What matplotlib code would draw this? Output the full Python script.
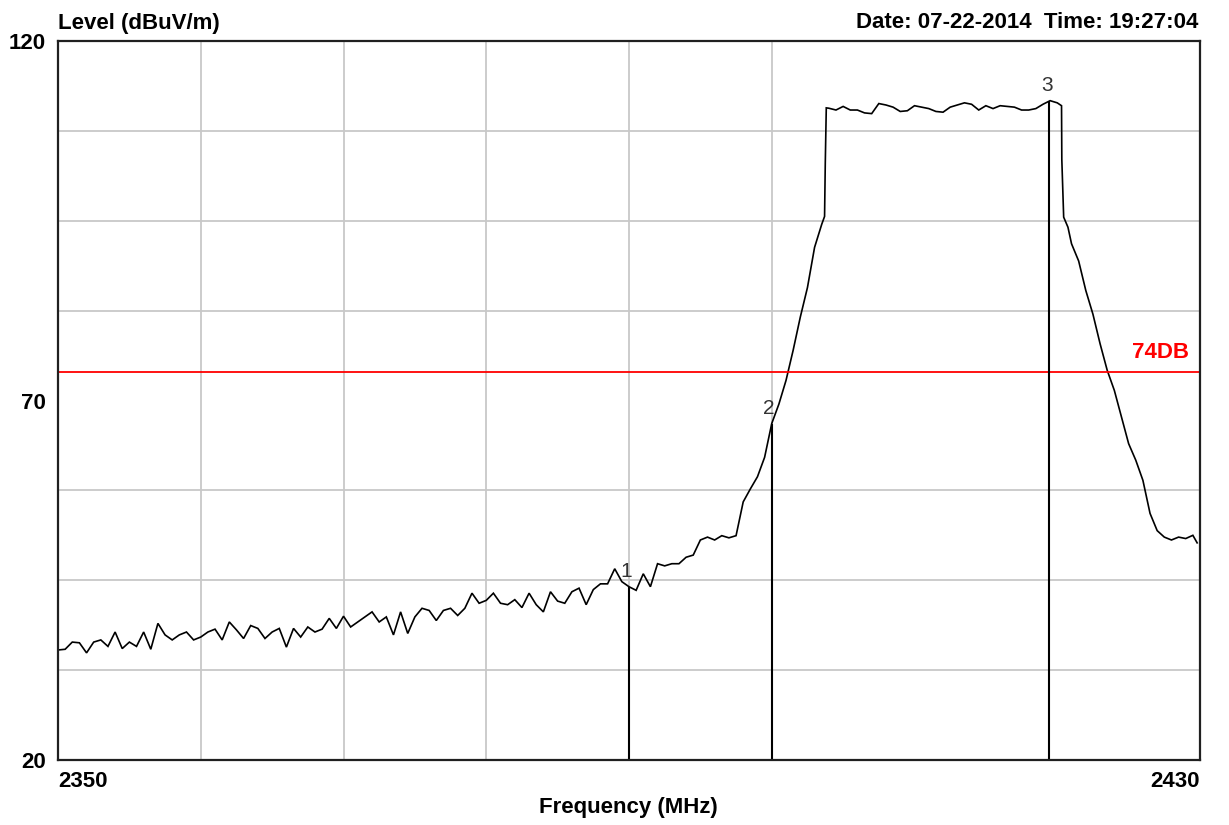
import matplotlib
matplotlib.use("Agg")
import matplotlib.pyplot as plt

# trace (MHz, dBuV/m)
freq = [
    2350.0, 2350.5, 2351.0, 2351.5, 2352.0, 2352.5, 2353.0, 2353.5, 2354.0, 2354.5,
    2355.0, 2355.5, 2356.0, 2356.5, 2357.0, 2357.5, 2358.0, 2358.5, 2359.0, 2359.5,
    2360.0, 2360.5, 2361.0, 2361.5, 2362.0, 2362.5, 2363.0, 2363.5, 2364.0, 2364.5,
    2365.0, 2365.5, 2366.0, 2366.5, 2367.0, 2367.5, 2368.0, 2368.5, 2369.0, 2369.5,
    2370.0, 2370.5, 2371.0, 2371.5, 2372.0, 2372.5, 2373.0, 2373.5, 2374.0, 2374.5,
    2375.0, 2375.5, 2376.0, 2376.5, 2377.0, 2377.5, 2378.0, 2378.5, 2379.0, 2379.5,
    2380.0, 2380.5, 2381.0, 2381.5, 2382.0, 2382.5, 2383.0, 2383.5, 2384.0, 2384.5,
    2385.0, 2385.5, 2386.0, 2386.5, 2387.0, 2387.5, 2388.0, 2388.5, 2389.0, 2389.5,
    2390.0, 2390.5, 2391.0, 2391.5, 2392.0, 2392.5, 2393.0, 2393.5, 2394.0, 2394.5,
    2395.0, 2395.5, 2396.0, 2396.5, 2397.0, 2397.5, 2398.0, 2398.5, 2399.0, 2399.5,
    2400.0, 2400.5, 2401.0, 2401.5, 2402.0, 2402.5, 2403.0, 2403.5, 2403.7, 2403.75,
    2403.82, 2404.0, 2404.5, 2405.0, 2405.5, 2406.0, 2406.5, 2407.0, 2407.5, 2408.0,
    2408.5, 2409.0, 2409.5, 2410.0, 2410.5, 2411.0, 2411.5, 2412.0, 2412.5, 2413.0,
    2413.5, 2414.0, 2414.5, 2415.0, 2415.5, 2416.0, 2416.5, 2417.0, 2417.5, 2418.0,
    2418.5, 2419.0, 2419.5, 2420.0, 2420.3, 2420.32, 2420.45, 2420.75, 2421.0, 2421.5,
    2422.0, 2422.5, 2423.0, 2423.5, 2424.0, 2424.5, 2425.0, 2425.5, 2426.0, 2426.5,
    2427.0, 2427.5, 2428.0, 2428.5, 2429.0, 2429.5, 2429.8,
]
level = [
    35.3, 35.4, 36.4, 36.3, 34.9, 36.4, 36.7, 35.8, 37.8, 35.5,
    36.4, 35.8, 37.8, 35.4, 39.0, 37.4, 36.7, 37.4, 37.8, 36.7,
    37.1, 37.8, 38.2, 36.7, 39.2, 38.1, 36.9, 38.7, 38.3, 36.9,
    37.8, 38.3, 35.7, 38.3, 37.1, 38.5, 37.8, 38.2, 39.7, 38.3,
    40.0, 38.5, 39.2, 39.9, 40.6, 39.2, 39.9, 37.4, 40.6, 37.6,
    39.9, 41.1, 40.8, 39.4, 40.8, 41.1, 40.1, 41.1, 43.2, 41.8,
    42.2, 43.2, 41.8, 41.6, 42.3, 41.2, 43.2, 41.6, 40.6, 43.4,
    42.1, 41.8, 43.4, 43.9, 41.6, 43.7, 44.5, 44.5, 46.6, 44.8,
    44.1, 43.6, 45.9, 44.1, 47.3, 47.0, 47.3, 47.3, 48.2, 48.5,
    50.6, 51.0, 50.6, 51.2, 50.9, 51.2, 55.9, 57.7, 59.4, 62.1,
    66.8, 69.5, 72.8, 77.0, 81.6, 85.7, 91.3, 94.5, 95.6, 103.0,
    110.7, 110.65, 110.4, 110.9, 110.4, 110.4, 110.0, 109.9, 111.3, 111.1,
    110.8, 110.2, 110.3, 111.0, 110.8, 110.6, 110.2, 110.1, 110.8, 111.1,
    111.4, 111.2, 110.4, 111.0, 110.6, 111.0, 110.9, 110.8, 110.4, 110.4,
    110.6, 111.2, 111.7, 111.4, 111.0, 103.5, 95.5, 94.1, 91.8, 89.4,
    85.3, 82.0, 77.9, 74.2, 71.4, 67.7, 64.0, 61.7, 58.9, 54.3,
    51.9, 51.0, 50.6, 51.0, 50.8, 51.25, 50.2,
]

marker_freq = [2390.0, 2400.0, 2419.45]
marker_level = [44.1, 66.8, 111.7]
marker_names = ["1", "2", "3"]

limit = 74
limit_label = "74DB"

grid_x = [2360, 2370, 2380, 2390, 2400]
grid_y = [32.5, 45, 57.5, 70, 82.5, 95, 107.5]

fig = plt.figure(figsize=(12.29, 8.25), dpi=100)
ax = fig.add_axes([58 / 1229, 1 - 760 / 825, 1142 / 1229, 719 / 825])

ax.set_xlim(2350, 2430)
ax.set_ylim(20, 120)

# grid on minor ticks, labels only on the ends
ax.set_xticks(grid_x, minor=True)
ax.set_yticks(grid_y, minor=True)
ax.grid(which="minor", color="#c8c8c8", linewidth=1.3)
ax.set_axisbelow(True)
ax.set_xticks([2350, 2430])
ax.set_yticks([20, 70, 120])
ax.tick_params(which="both", length=0)
ax.tick_params(axis="x", pad=8)
ax.tick_params(axis="y", pad=9)
for lab in ax.get_xticklabels() + ax.get_yticklabels():
    lab.set_fontfamily("Liberation Sans")
    lab.set_fontweight("bold")
    lab.set_fontsize(16)
xl = ax.get_xticklabels()
xl[0].set_ha("left")
xl[1].set_ha("right")

for s in ax.spines.values():
    s.set_linewidth(1.6)
    s.set_color("#202020")

ax.plot(freq, level, color="black", linewidth=1.2, solid_joinstyle="miter")

ax.axhline(limit, color="#ff0000", linewidth=1.3)
ax.text(2429.2, limit + 1.2, limit_label, color="#ff0000", ha="right", va="bottom",
        fontfamily="Liberation Sans", fontweight="bold", fontsize=16)

ax.vlines(marker_freq, 20, marker_level, color="black", linewidth=1.5)
for f, l, name in zip(marker_freq, marker_level, marker_names):
    ax.annotate(name, (f, l), xytext=(-2, 4), textcoords="offset points",
                ha="center", va="bottom", fontsize=15, color="#333333",
                fontfamily="Liberation Sans")

fig.text(58 / 1229, 1 - 29 / 825, "Level (dBuV/m)", ha="left", va="baseline",
         fontfamily="Liberation Sans", fontweight="bold", fontsize=16)
fig.text(1198 / 1229, 1 - 28 / 825, "Date: 07-22-2014  Time: 19:27:04", ha="right",
         va="baseline", fontfamily="Liberation Sans", fontweight="bold", fontsize=16)
fig.text(628 / 1229, 1 - 813 / 825, "Frequency (MHz)", ha="center", va="baseline",
         fontfamily="Liberation Sans", fontweight="bold", fontsize=16)

fig.savefig("out.png", dpi=100)
